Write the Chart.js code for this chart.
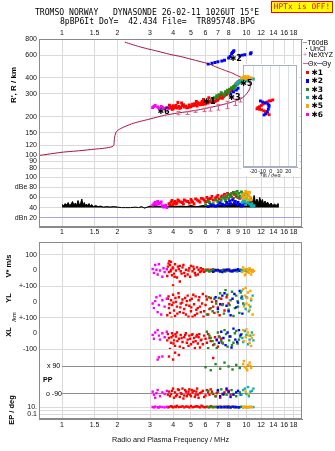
<!DOCTYPE html>
<html>
<head>
<meta charset="utf-8">
<title>Dynasonde ionogram</title>
<script src="https://cdn.jsdelivr.net/npm/chart.js@4.4.1/dist/chart.umd.min.js"></script>
<style>
    body { margin: 0; width: 335px; height: 451px; position: relative; overflow: hidden; background: #fff;
           font-family: "Liberation Sans", Arial, sans-serif; color: #000; }
    canvas { position: absolute; }
    .lbl { position: absolute; white-space: pre; line-height: 1; font-size: 7px; z-index: 3; }
    .rot { position: absolute; white-space: pre; line-height: 1; font-size: 7.5px; font-weight: bold; z-index: 3;
           transform: translate(-50%, -50%) rotate(-90deg); }
    .mono { font-family: "DejaVu Sans Mono", "Liberation Mono", monospace; font-size: 8.1px; }
    .sw { position: absolute; z-index: 3; }
</style>
</head>
<body>

<div class="lbl mono" style="left:35px; top:8px;">TROMSO NORWAY   DYNASONDE 26-02-11 1026UT 15°E</div>
<div class="lbl mono" style="left:60px; top:16.5px;">8pBP6It DoY=  42.434 File=  TR895748.BPG</div>
<div class="lbl mono" style="left:271px; top:1px; width:60px; height:10px; line-height:10px; background:#ffff00;
     border:1px solid #ff0000; color:#ff0000; text-align:center; font-size:7.8px;">HPTx is OFF!</div>

<canvas id="tiltChart" width="58" height="117" style="left:241px; top:63px; z-index:1;"></canvas>
<canvas id="topChart" width="335" height="210" style="left:0; top:26px; z-index:2;"></canvas>
<canvas id="lowChart" width="335" height="215" style="left:0; top:236px; z-index:2;"></canvas>

<!-- axis names -->
<div class="rot" style="left:14px; top:85px; font-size:8px;">R', R / km</div>
<div class="rot" style="left:9px; top:266px;">V* m/s</div>
<div class="rot" style="left:9px; top:298px;">YL</div>
<div class="rot" style="left:14px; top:317px; font-size:6px; font-weight:normal;">/km</div>
<div class="rot" style="left:9px; top:332px;">XL</div>
<div class="lbl" style="left:43px; top:375.5px; font-weight:bold;">PP</div>
<div class="lbl" style="left:47px; top:361.5px;">x 90</div>
<div class="lbl" style="left:46px; top:389.5px;">o -90</div>
<div class="rot" style="left:12px; top:410px;">EP / deg</div>

<!-- legend -->
<div class="sw" style="left:303px; top:42px; width:4px; height:1px; background:#999;"></div>
<div class="lbl" style="left:307.5px; top:39px;">T60dB</div>
<div class="sw" style="left:306px; top:48px; width:1px; height:1px; background:#000;"></div>
<div class="lbl" style="left:310px; top:45px;">UnCl</div>
<div class="lbl" style="left:303px; top:51px; color:#e0609a;">+</div>
<div class="lbl" style="left:308.5px; top:51px;">NeXtYZ</div>
<div class="sw" style="left:303px; top:63px; width:5px; height:1px; background:#e0609a;"></div>
<div class="lbl" style="left:308px; top:60px;">Θx</div>
<div class="sw" style="left:317px; top:63px; width:5px; height:1px; background:#6070e0;"></div>
<div class="lbl" style="left:322px; top:60px;">Θy</div>
<div id="seriesLegend"></div>

<script>
// ---------- axes ----------
const freqMin = 0.75, freqMax = 20;
const freqGrid = [1, 1.5, 2, 3, 4, 5, 6, 7, 8, 9, 10, 12, 14, 16, 18];
const freqLabelsOuter = [1, 1.5, 2, 3, 4, 5, 6, 7, 8, 10, 12, 14, 16, 18];
const freqLabelsMid = [1, 1.5, 2, 3, 4, 5, 6, 7, 8, 9, 10, 12, 14, 16, 18];

const heightTicks = [80, 90, 100, 120, 150, 200, 300, 400, 600, 800];
const heightLabels = ['80', '90', '100', '120', '150', '200', '300', '400', '600', '800'];
const dbTicks = [20, 40, 60, 80, 100];
const dbLabels = ['dBn 20', '40', '60', 'dBe 80', '100'];
const tiltTicks = [-20, -10, 0, 10, 20];

const velTicks = [-100, 0, 100];
const velLabels = ['+-100', '0', '100'];
const ylTicks = [-100, 0];
const ylLabels = ['+-100', '0'];
const xlTicks = [-100, 0];
const xlLabels = ['-100', '0'];
const ppLineValues = [90, -90];
const epTicks = [0.1, 1, 10];
const epLabels = ['0.1', '', '10.'];

const seriesNames = ['✱1', '✱2', '✱3', '✱4', '✱5', '✱6'];
const seriesColors = ['#ff0000', '#0000ff', '#1f8c1f', '#10b0b0', '#ffa500', '#ff00ff'];

// ---------- virtual height R' (km) ----------
const curveFreq = [0.75, 1.0, 1.25, 1.5, 1.7, 1.87, 1.91, 1.92, 1.93, 1.97, 2.05, 2.2, 2.44, 2.7, 2.96, 3.3, 3.6,
    4.2, 4.8, 5.5, 6.2, 7.0, 8.0, 8.8, 9.5, 9.9, 10.2, 10.45, 10.5, 10.45, 10.25, 9.8, 9.3, 8.8, 8.33, 7.7, 7.2,
    6.7, 6.22, 5.6, 5.0, 4.4, 3.9, 3.62, 3.2, 2.9, 2.6, 2.4, 2.19];
const curveHeight = [100, 106, 109, 112, 114, 117, 121, 132, 140, 153, 160, 168, 178, 185, 191, 199, 205,
    213, 219, 226, 234, 243, 255, 266, 280, 295, 312, 333, 350, 365, 378, 392, 405, 420, 437, 455, 472,
    492, 515, 535, 558, 585, 605, 622, 650, 672, 700, 725, 757];

const nxFreq = [4.27, 4.74, 5.26, 5.91, 6.34, 7.05, 7.83, 8.67, 9.25];
const nxHeight = [213, 213, 219, 226, 229, 237, 247, 258, 270];
const nxErr = [6, 5, 3, 7, 8, 12, 16, 14, 10];

const redH = [[3.8, 232], [3.82, 245], [3.85, 240], [3.9, 236], [3.95, 228], [4.0, 230], [4.0, 243], [4.05, 236],
    [4.1, 238], [4.15, 244], [4.2, 233], [4.25, 258], [4.3, 240], [4.35, 232], [4.4, 236], [4.45, 255],
    [4.5, 244], [4.55, 248], [4.6, 238], [4.7, 242], [4.75, 234], [4.8, 236], [4.9, 246], [4.95, 238],
    [5.0, 240], [5.1, 250], [5.15, 244], [5.2, 244], [5.25, 252], [5.3, 248], [5.35, 262], [5.4, 242],
    [5.45, 256], [5.5, 252], [5.6, 247], [5.65, 250], [5.7, 255], [5.75, 262], [5.8, 249], [5.85, 272],
    [5.9, 258], [5.95, 252], [6.0, 252], [6.1, 262], [6.15, 258], [6.2, 255], [6.25, 280], [6.35, 262],
    [6.45, 266], [6.5, 258], [6.6, 268], [6.7, 262], [6.8, 264], [6.9, 275], [6.95, 268], [7.0, 270],
    [7.1, 276], [7.2, 282], [7.3, 296], [7.4, 278], [7.5, 285], [7.6, 290], [7.7, 296], [7.8, 298],
    [7.9, 310], [8.0, 305], [8.1, 312], [8.2, 318], [8.3, 325], [8.4, 330], [8.5, 338], [8.6, 345],
    [8.7, 352], [8.8, 358], [8.9, 365], [9.0, 370], [9.1, 375], [9.2, 378], [9.35, 382], [9.5, 385],
    [9.65, 388], [9.8, 392], [9.95, 395], [10.1, 398]];
const blueH = [[6.2, 511], [6.5, 518], [6.75, 525], [7.0, 532], [7.35, 540], [7.6, 548], [8.0, 570],
    [8.15, 585], [8.3, 614], [8.4, 628], [8.5, 639], [8.55, 650], [9.2, 590], [9.5, 600], [9.8, 604],
    [10.5, 614], [10.6, 625], [8.2, 300], [8.5, 312], [8.8, 322], [9.0, 332]];
const greenH = [[6.5, 272], [6.7, 280], [6.9, 290], [7.0, 282], [7.1, 296], [7.3, 306], [7.5, 300],
    [7.6, 292], [7.7, 312], [7.9, 320], [8.0, 305], [8.1, 326], [8.3, 335], [8.5, 342], [8.6, 330],
    [8.7, 348], [8.9, 356], [9.1, 364], [9.3, 372], [9.5, 380], [9.6, 390]];
const tealH = [[8.8, 362], [9.0, 370], [9.2, 378], [9.4, 386], [9.6, 395], [9.8, 388], [10.0, 380],
    [10.3, 392], [10.6, 398], [10.9, 392]];
const orangeH = [[9.4, 398], [9.6, 405], [9.8, 410], [9.9, 395], [10.0, 402], [10.2, 408], [10.4, 400],
    [10.6, 395]];
const magentaH = [[3.1, 236], [3.15, 240], [3.2, 244], [3.3, 238], [3.35, 233], [3.45, 240], [3.5, 236],
    [3.6, 231], [3.7, 236], [3.75, 232]];

const starMarks = ['✱1', '✱2', '✱3', '✱5', '✱6'];
const starFreq = [6.3, 8.75, 8.6, 10.0, 3.55];
const starHeight = [262, 560, 282, 362, 219];

// ---------- echo amplitude (dB) ----------
const noiseDb = [[1.0, 46], [1.02, 44], [1.04, 48], [1.06, 45], [1.08, 50], [1.1, 44], [1.12, 47], [1.14, 52],
    [1.16, 45], [1.18, 49], [1.2, 44], [1.22, 54], [1.24, 46], [1.26, 48], [1.28, 57], [1.3, 45], [1.32, 50],
    [1.34, 44], [1.36, 47], [1.38, 43], [1.4, 48], [1.42, 43], [1.45, 46], [1.48, 42], [1.52, 44],
    [1.57, 42], [1.62, 43], [1.68, 41], [1.75, 42], [1.82, 41], [1.9, 42], [2.0, 41], [2.1, 40], [2.2, 40],
    [2.35, 40], [2.5, 41], [2.6, 40], [2.7, 42], [2.8, 39], [2.9, 41], [3.0, 43], [3.1, 42], [3.2, 44],
    [3.35, 42], [3.5, 43], [3.7, 42], [3.9, 44], [4.1, 42], [4.4, 43], [4.7, 42], [5.0, 44], [5.4, 42],
    [5.8, 44], [6.2, 43], [6.6, 45], [7.0, 44], [7.5, 46], [8.0, 45], [8.5, 48], [9.0, 46], [9.5, 50],
    [9.8, 50], [10.0, 46], [10.2, 55], [10.4, 48], [10.6, 60], [10.8, 50], [11.0, 64], [11.2, 49], [11.4, 57],
    [11.6, 47], [11.8, 60], [12.0, 50], [12.2, 56], [12.4, 46], [12.6, 53], [12.8, 47], [13.0, 51],
    [13.3, 45], [13.6, 49], [13.9, 44], [14.2, 47], [14.5, 44], [14.8, 48], [15.0, 46]];
const redDb = [[3.8, 48], [3.85, 46], [3.9, 51], [3.95, 54], [4.0, 46], [4.05, 49], [4.1, 52], [4.15, 47],
    [4.2, 49], [4.25, 55], [4.3, 53], [4.4, 51], [4.5, 50], [4.55, 47], [4.6, 55], [4.7, 53], [4.8, 52],
    [4.9, 49], [5.0, 56], [5.05, 53], [5.1, 51], [5.2, 48], [5.3, 57], [5.4, 55], [5.5, 53], [5.6, 51],
    [5.7, 58], [5.8, 57], [5.9, 55], [6.0, 52], [6.1, 60], [6.2, 56], [6.3, 57], [6.4, 58], [6.5, 62],
    [6.6, 55], [6.8, 59], [6.9, 61], [7.0, 64], [7.1, 57], [7.3, 61], [7.4, 63], [7.6, 66], [7.7, 60],
    [7.9, 68], [8.0, 65], [8.2, 64], [8.3, 61], [8.5, 70], [8.6, 66], [8.8, 62], [9.0, 60], [9.2, 58]];
const blueDb = [[6.2, 42], [6.4, 46], [6.6, 44], [6.8, 43], [7.0, 45], [7.2, 49], [7.4, 47], [7.6, 45],
    [7.8, 50], [8.0, 47], [8.1, 53], [8.2, 48], [8.4, 55], [8.6, 49], [8.7, 52], [8.9, 46], [9.0, 50],
    [9.3, 47], [9.4, 43], [9.6, 45]];
const greenDb = [[6.0, 46], [6.2, 52], [6.3, 50], [6.6, 48], [6.8, 55], [7.0, 52], [7.1, 49], [7.3, 55],
    [7.4, 60], [7.6, 58], [7.7, 54], [7.8, 62], [8.0, 66], [8.0, 58], [8.2, 62], [8.3, 68], [8.5, 58],
    [8.6, 70], [8.8, 66], [8.9, 72], [9.0, 60], [9.1, 68], [9.2, 62], [9.4, 71], [9.5, 65], [9.7, 66],
    [9.9, 60], [10.0, 70], [10.2, 64]];
const tealDb = [[9.4, 60], [9.5, 50], [9.6, 56], [9.8, 52], [9.9, 46], [10.0, 58], [10.2, 50], [10.3, 55],
    [10.4, 47], [10.6, 44], [10.7, 48], [10.8, 42], [11.0, 44]];
const orangeDb = [[9.5, 64], [9.6, 58], [9.7, 68], [9.8, 60], [9.9, 72], [10.0, 62], [10.1, 70], [10.2, 56],
    [10.3, 65], [10.4, 70], [10.5, 60], [10.6, 55]];
const magentaDb = [[3.1, 45], [3.15, 48], [3.2, 50], [3.25, 46], [3.3, 52], [3.35, 47], [3.4, 49], [3.45, 51],
    [3.5, 44], [3.55, 41], [3.6, 43], [3.65, 45], [3.7, 40]];

// ---------- tilt inset (deg, km) ----------
const tiltRed = [[2.2, 270], [0, 266], [-2, 265], [-4.5, 260], [-7, 255], [-9, 250], [-11, 244], [-13, 239],
    [-15, 235], [-16, 230], [-13, 228], [-10.5, 226], [-8, 222], [-6, 219], [-4, 213], [-2, 207]];
const tiltBlue = [[-12, 265], [-9.6, 260], [-6.5, 256], [-3.4, 251], [-2.2, 245], [-2.2, 240], [-2.9, 229],
    [-4, 219], [-6, 210], [-7.8, 206]];

// ---------- lower panels ----------
const redVel = [[3.72, -35], [3.75, 25], [3.78, 45], [3.8, -10], [3.82, 60], [3.85, 35], [3.88, -5], [3.9, 5],
    [3.9, 55], [3.95, -30], [3.98, 20], [4.0, 15], [4.0, -95], [4.05, -20], [4.08, -40], [4.1, 40], [4.15, 0],
    [4.2, -45], [4.25, 25], [4.3, 10], [4.35, 30], [4.35, -70], [4.4, -5], [4.45, -20], [4.5, 20], [4.55, 35],
    [4.6, -15], [4.65, -35], [4.7, 5], [4.8, -25], [4.85, 0], [4.9, 15], [4.95, -40], [5.0, 30], [5.1, -5],
    [5.15, 25], [5.2, 10], [5.25, -15], [5.3, -30], [5.4, 20], [5.45, -25], [5.5, 5], [5.6, -10], [5.65, 15],
    [5.7, -5], [5.8, 8], [5.9, -8], [6.0, 0], [6.1, 3], [6.2, 5], [6.3, -5], [6.4, 6], [6.5, -3], [6.7, -4],
    [6.8, 3], [7.0, 2], [7.2, 0], [7.4, -3], [7.6, 4], [7.8, 3], [8.0, -2], [8.4, 0]];
const redYL = [[3.72, -85], [3.75, 20], [3.78, 35], [3.8, -40], [3.82, -15], [3.85, -70], [3.9, 10],
    [3.92, -100], [3.95, -20], [4.0, 45], [4.02, -5], [4.05, -55], [4.1, -90], [4.12, 25], [4.15, 0],
    [4.2, -30], [4.22, -75], [4.28, 55], [4.3, 30], [4.35, -65], [4.38, -35], [4.4, -10], [4.45, -110],
    [4.48, -5], [4.5, 15], [4.55, -70], [4.6, -45], [4.65, 25], [4.7, -80], [4.72, -20], [4.75, 5], [4.8, 40],
    [4.85, -95], [4.9, -25], [4.95, 10], [5.0, -60], [5.02, -35], [5.05, 20], [5.1, -95], [5.15, 45],
    [5.2, -15], [5.25, -85], [5.3, 35], [5.35, -50], [5.4, -75], [5.45, -40], [5.5, 10], [5.55, 30],
    [5.6, -30], [5.65, -65], [5.75, -10], [5.8, 50], [5.85, -95], [5.9, -60], [6.0, -20], [6.05, 35],
    [6.1, 15], [6.2, -80], [6.3, -45], [6.4, 25], [6.5, 0], [6.6, -30], [6.7, -70], [6.85, 5], [7.0, -35],
    [7.15, -85], [7.3, 20], [7.45, -15], [7.6, -55], [7.8, 30], [8.0, -10]];
const redXL = [[3.72, -45], [3.75, -5], [3.8, -30], [3.85, -100], [3.9, -60], [3.92, -25], [3.95, 0],
    [4.0, -15], [4.02, -65], [4.05, -45], [4.1, -80], [4.12, -5], [4.15, -20], [4.2, 5], [4.22, -50],
    [4.3, -35], [4.35, -85], [4.4, -10], [4.45, -30], [4.5, -55], [4.55, -95], [4.6, -25], [4.65, -10],
    [4.7, 0], [4.75, -60], [4.8, -40], [4.85, -80], [4.9, -15], [4.95, -35], [5.0, -70], [5.05, -10],
    [5.1, -5], [5.15, -55], [5.2, -30], [5.25, -95], [5.3, -50], [5.35, -20], [5.4, -10], [5.45, -65],
    [5.5, -25], [5.55, -5], [5.6, -90], [5.65, -45], [5.7, -40], [5.8, -70], [5.9, -15], [6.0, -35],
    [6.1, -60], [6.2, -5], [6.3, -30], [6.4, -50], [6.5, -110], [6.6, -75], [6.75, -25], [6.9, -45],
    [7.0, -85], [7.1, -20], [7.3, -35], [7.4, -60]];
const redPP = [[3.8, 150], [4.0, 130], [4.1, 175], [4.3, 160], [6.6, 140], [3.75, -100], [3.8, -80],
    [3.85, -110], [3.9, -95], [3.95, -75], [4.0, -60], [4.05, -120], [4.1, -85], [4.15, -110], [4.2, -100],
    [4.25, -65], [4.3, -70], [4.35, -115], [4.4, -90], [4.45, -95], [4.5, -60], [4.55, -125], [4.6, -105],
    [4.65, -70], [4.7, -80], [4.75, -110], [4.8, -95], [4.85, -80], [4.9, -65], [4.95, -100], [5.0, -110],
    [5.05, -70], [5.1, -85], [5.2, -75], [5.25, -115], [5.3, -100], [5.35, -80], [5.4, -60], [5.45, -100],
    [5.5, -120], [5.6, -90], [5.7, -85], [5.8, -75], [5.9, -115], [6.0, -105], [6.1, -70], [6.2, -85],
    [6.3, -100], [6.4, -65], [6.5, -80], [6.6, -95], [6.8, -110], [6.9, -90], [7.0, -80], [7.2, -120],
    [7.4, -95], [7.6, -85], [7.8, -70], [8.0, -75], [8.2, -100]];
const redEP = [[3.75, 9], [3.8, 12], [3.9, 20], [3.95, 14], [4.0, 9], [4.1, 15], [4.15, 11], [4.2, 25],
    [4.3, 11], [4.4, 13], [4.5, 18], [4.6, 9], [4.7, 16], [4.8, 14], [4.9, 9], [5.0, 22], [5.1, 10],
    [5.2, 12], [5.3, 16], [5.4, 19], [5.5, 12], [5.6, 9], [5.7, 28], [5.8, 15], [5.9, 10], [6.0, 11],
    [6.1, 14], [6.25, 9], [6.4, 20], [6.6, 13], [6.8, 11], [7.0, 10], [7.2, 15], [7.4, 12], [7.6, 9],
    [7.8, 10], [8.0, 18], [8.3, 13], [8.6, 9]];

const blueVel = [[6.6, -8], [6.8, 2], [7.0, 3], [7.2, -4], [7.4, -10], [7.6, 0], [7.8, 5], [8.0, 6],
    [8.2, -5], [8.4, -3], [8.6, 0], [8.8, 4], [9.0, 8], [9.2, -2]];
const blueYL = [[6.8, 30], [7.0, -45], [7.2, -15], [7.4, 40], [7.6, 55], [7.8, -25], [8.0, -60], [8.2, -85],
    [8.4, 20], [8.6, 50], [8.8, -35], [9.0, -5], [9.2, 70], [9.4, 25], [9.5, -75]];
const blueXL = [[6.9, -40], [7.1, -60], [7.3, 10], [7.5, -30], [7.7, -75], [7.9, 5], [8.1, -20], [8.3, -90],
    [8.5, 30], [8.7, -40], [8.9, -55], [9.1, 20], [9.3, -10]];
const bluePP = [[7.0, -70], [7.2, -110], [7.5, -95], [7.8, -60], [8.0, -80], [8.2, -115], [8.5, -100],
    [8.8, -85], [9.0, -75], [9.3, -100]];
const blueEP = [[7.0, 10], [7.3, 11], [7.6, 13], [7.9, 10], [8.2, 9], [8.5, 13], [8.8, 12], [9.1, 9]];

const greenVel = [[6.0, 5], [6.15, 2], [6.3, -5], [6.45, -2], [6.6, 8], [6.75, 4], [6.9, 0], [7.05, -4],
    [7.2, -8], [7.35, 2], [7.5, 5], [7.65, -6], [7.8, -3], [7.95, 3], [8.1, 6], [8.25, -2], [8.4, -6],
    [8.55, 4], [8.7, 2], [8.85, -5], [9.0, -4], [9.15, 1], [9.3, 5], [9.45, -3], [9.6, 0], [9.8, 3]];
const greenYL = [[6.1, -80], [6.25, 30], [6.4, -40], [6.55, -60], [6.7, 20], [6.85, -10], [7.0, -65],
    [7.1, 25], [7.2, 55], [7.4, -20], [7.55, -75], [7.7, 75], [7.85, 45], [8.0, -50], [8.1, -20], [8.2, 10],
    [8.35, 65], [8.5, -90], [8.65, -40], [8.8, 40], [8.95, 5], [9.0, -30], [9.15, -70], [9.3, 60],
    [9.45, 35], [9.6, -10]];
const greenXL = [[6.1, 10], [6.2, -95], [6.3, -15], [6.4, -30], [6.55, -50], [6.7, -70], [6.9, -95],
    [7.0, 5], [7.15, -25], [7.3, -50], [7.45, -65], [7.6, 20], [7.75, -5], [7.9, -85], [8.05, -45],
    [8.2, -20], [8.35, -75], [8.5, -60], [8.65, 0], [8.8, 15], [8.95, -65], [9.1, -40], [9.25, -20], [9.4, -5]];
const greenPP = [[6.0, 80], [6.4, 60], [6.8, 100], [7.2, 70], [7.6, 110], [8.0, 85], [8.4, 65], [8.8, 95],
    [9.2, 75], [6.2, -75], [6.5, -90], [6.8, -110], [7.0, -80], [7.3, -65], [7.5, -100], [7.8, -100],
    [8.0, -85], [8.3, -70], [8.5, -95], [8.8, -110], [9.2, -85]];
const greenEP = [[6.2, 12], [6.4, 11], [6.6, 9], [6.8, 13], [7.0, 14], [7.2, 9], [7.4, 10], [7.6, 12],
    [7.8, 16], [8.0, 10], [8.2, 9], [8.4, 14], [8.6, 12], [8.8, 9], [9.0, 10], [9.2, 11], [9.4, 14], [9.6, 10]];

const tealVel = [[9.4, -5], [9.6, 0], [9.8, 4], [10.0, -3], [10.2, -8], [10.4, 5], [10.6, 2], [10.8, -6]];
const tealYL = [[9.4, 70], [9.5, 20], [9.7, -20], [9.9, -45], [10.0, 30], [10.3, -60], [10.5, -30],
    [10.6, 10], [10.8, 40]];
const tealXL = [[9.5, -30], [9.6, -55], [9.8, 15], [10.0, -10], [10.2, -70], [10.4, -40], [10.5, -15],
    [10.7, 5], [10.9, -45]];
const tealPP = [[9.4, -100], [9.6, -70], [9.8, -60], [10.0, -95], [10.2, -50], [10.3, -110], [10.5, -80],
    [10.7, -75], [10.9, -60]];
const tealEP = [[9.6, 11], [9.8, 12], [10.1, 9], [10.4, 10], [10.6, 13], [10.9, 11]];

const orangeVel = [[9.5, -10], [9.6, 20], [9.7, 5], [9.8, -30], [9.9, -20], [10.0, 10], [10.1, 8],
    [10.2, -5], [10.3, -15], [10.4, 15], [10.5, 0], [10.6, -25], [10.7, -8], [10.8, 5], [11.0, -2]];
const orangeYL = [[9.6, 80], [9.7, -30], [9.8, 40], [9.9, 90], [10.0, -10], [10.1, 25], [10.2, 60],
    [10.3, -20], [10.4, -50], [10.5, 70], [10.6, 20], [10.8, -80]];
const orangeXL = [[9.6, 20], [9.7, -50], [9.9, -25], [10.0, 25], [10.2, 5], [10.3, -15], [10.4, -60],
    [10.6, -80], [10.7, -30], [10.9, -10]];
const orangePP = [[9.6, 100], [9.7, 120], [9.8, 80], [10.0, 70], [10.1, 60], [10.2, 95], [10.4, 110],
    [10.5, 90], [10.6, 75], [9.9, -80], [10.3, -95]];
const orangeEP = [[9.6, 10], [9.7, 12], [9.9, 14], [10.0, 9], [10.2, 9], [10.3, 13], [10.5, 12], [10.7, 10]];

const magentaVel = [[3.1, 10], [3.15, -15], [3.2, 35], [3.25, 5], [3.3, -25], [3.35, 40], [3.4, 0], [3.5, -40],
    [3.55, 15], [3.6, -10], [3.7, 8]];
const magentaYL = [[3.1, -10], [3.15, -40], [3.2, 5], [3.25, 30], [3.3, -65], [3.35, -20], [3.4, 40], [3.45, -80],
    [3.5, 10], [3.6, -30], [3.7, 20]];
const magentaXL = [[3.1, -10], [3.15, -35], [3.2, 5], [3.3, 20], [3.35, -15], [3.4, -40], [3.5, 0], [3.6, -25], [3.7, 10]];
const magentaPP = [[3.3, 130], [3.35, 145], [3.5, 150], [3.1, -80], [3.15, -100], [3.2, -120], [3.25, -90],
    [3.3, -70], [3.4, -110], [3.5, -85], [3.6, -95], [3.7, -75]];
const magentaEP = [[3.1, 12], [3.15, 9], [3.2, 15], [3.3, 10], [3.35, 8], [3.4, 14], [3.5, 11], [3.6, 9], [3.7, 13]];

// ---------- look ----------
const RED = seriesColors[0], BLUE = seriesColors[1], GREEN = seriesColors[2];
const TEAL = seriesColors[3], ORANGE = seriesColors[4], MAGENTA = seriesColors[5];
const curveColor = '#a8123e';
const nxColor = '#e0609a';
const gridColor = '#dadada';
const frameColor = '#8a8a8a';
const textColor = '#111';
const tickFont = { size: 7 };
const topOffset = 26;
const insetBox = { left: 241, top: 64, width: 58, height: 112 };

Chart.defaults.font.family = "'Liberation Sans', Arial, sans-serif";
Chart.defaults.font.size = 7;

function pts(arr) {
    return arr.map(p => ({ x: p[0], y: p[1] }));
}

function dots(arr, color, yAxisID, radius) {
    return {
        type: 'scatter', data: pts(arr), xAxisID: 'x', yAxisID: yAxisID,
        backgroundColor: color, borderWidth: 0, pointStyle: 'rect',
        pointRadius: radius, pointHoverRadius: radius
    };
}

function freqAxis(position, labels, height, padding) {
    return {
        type: 'logarithmic', position: position, min: freqMin, max: freqMax,
        afterBuildTicks: (s) => { s.ticks = freqGrid.map(v => ({ value: v })); },
        afterFit: (s) => { s.height = height; },
        border: { color: frameColor },
        grid: { color: gridColor, drawTicks: false, display: position === 'bottom' },
        ticks: {
            font: tickFont, color: textColor, padding: padding, maxRotation: 0, autoSkip: false,
            callback: (v) => labels.includes(v) ? String(v) : ''
        }
    };
}

function stackedAxis(type, min, max, tickValues, tickLabels, stack, stackWeight, weight, gridFor) {
    return {
        type: type, position: 'left', min: min, max: max,
        stack: stack, stackWeight: stackWeight, weight: weight,
        afterBuildTicks: (s) => { s.ticks = tickValues.map(v => ({ value: v })); },
        afterFit: (s) => { s.width = 39; },
        border: { color: frameColor },
        grid: { drawTicks: false, color: (c) => gridFor(c.tick ? c.tick.value : null) },
        ticks: {
            font: tickFont, color: textColor, padding: 2, autoSkip: false,
            callback: (v) => { const i = tickValues.indexOf(v); return i < 0 ? '' : tickLabels[i]; }
        }
    };
}

const plainGrid = () => gridColor;
const noZeroGrid = (v) => v === 0 ? 'rgba(0,0,0,0)' : gridColor;

function framePlugin(color) {
    return {
        id: 'frame',
        afterDraw(chart) {
            const a = chart.chartArea, ctx = chart.ctx;
            ctx.save();
            ctx.strokeStyle = color;
            ctx.lineWidth = 1;
            ctx.strokeRect(Math.round(a.left) + 0.5, Math.round(a.top) + 0.5,
                Math.round(a.width) - 1, Math.round(a.height) - 1);
            ctx.restore();
        }
    };
}

// the tilt inset lives on a canvas underneath; open a window for it
const insetHole = {
    id: 'insetHole',
    beforeDatasetsDraw(chart) {
        chart.ctx.clearRect(insetBox.left, insetBox.top - topOffset, insetBox.width, insetBox.height);
    }
};

const nxBars = {
    id: 'nxBars',
    afterDatasetsDraw(chart) {
        const x = chart.scales.x, y = chart.scales.yH, ctx = chart.ctx;
        ctx.save();
        ctx.strokeStyle = nxColor;
        ctx.lineWidth = 1;
        nxFreq.forEach((f, i) => {
            const px = Math.round(x.getPixelForValue(f)) + 0.5;
            const top = y.getPixelForValue(nxHeight[i] + nxErr[i]);
            const bot = y.getPixelForValue(nxHeight[i] - nxErr[i]);
            ctx.beginPath();
            ctx.moveTo(px, top); ctx.lineTo(px, bot);
            ctx.moveTo(px - 2, top); ctx.lineTo(px + 2, top);
            ctx.moveTo(px - 2, bot); ctx.lineTo(px + 2, bot);
            ctx.stroke();
        });
        ctx.restore();
    }
};

const starText = {
    id: 'starText',
    afterDatasetsDraw(chart) {
        const x = chart.scales.x, y = chart.scales.yH, ctx = chart.ctx;
        ctx.save();
        ctx.fillStyle = '#000';
        ctx.font = "bold 8px 'DejaVu Sans', sans-serif";
        ctx.textAlign = 'center';
        ctx.textBaseline = 'middle';
        starMarks.forEach((m, i) => {
            ctx.fillText(m, x.getPixelForValue(starFreq[i]), y.getPixelForValue(starHeight[i]));
        });
        ctx.restore();
    }
};

const ppLines = {
    id: 'ppLines',
    beforeDatasetsDraw(chart) {
        const x = chart.scales.x, y = chart.scales.yPP, ctx = chart.ctx;
        ctx.save();
        ctx.strokeStyle = '#8c8c8c';
        ctx.lineWidth = 1;
        ppLineValues.forEach(v => {
            const py = Math.round(y.getPixelForValue(v)) + 0.5;
            ctx.beginPath();
            ctx.moveTo(x.getPixelForValue(1), py);
            ctx.lineTo(chart.chartArea.right, py);
            ctx.stroke();
        });
        ctx.restore();
    }
};

// ---------- top: R' and dB ----------
new Chart(document.getElementById('topChart'), {
    type: 'scatter',
    data: {
        datasets: [
            dots(magentaH, MAGENTA, 'yH', 2.1),
            dots(orangeH, ORANGE, 'yH', 2.1),
            dots(tealH, TEAL, 'yH', 2.1),
            dots(greenH, GREEN, 'yH', 2.1),
            dots(blueH, BLUE, 'yH', 2.1),
            dots(redH, RED, 'yH', 2.1),
            dots(magentaDb, MAGENTA, 'yDB', 2),
            dots(orangeDb, ORANGE, 'yDB', 2),
            dots(tealDb, TEAL, 'yDB', 2),
            dots(blueDb, BLUE, 'yDB', 2),
            dots(greenDb, GREEN, 'yDB', 2),
            dots(redDb, RED, 'yDB', 2),
            {
                type: 'line', data: pts(noiseDb), xAxisID: 'x', yAxisID: 'yDB',
                borderColor: '#000', backgroundColor: '#000', borderWidth: 1,
                pointRadius: 0, tension: 0, fill: { value: 40 }
            },
            {
                type: 'line', data: curveFreq.map((f, i) => ({ x: f, y: curveHeight[i] })),
                xAxisID: 'x', yAxisID: 'yH', borderColor: curveColor, borderWidth: 1,
                pointRadius: 0, tension: 0.2, fill: false
            }
        ]
    },
    options: {
        responsive: false, animation: false, events: [],
        layout: { padding: { left: 0, right: 33, top: 0, bottom: 0 } },
        plugins: { legend: { display: false }, tooltip: { enabled: false } },
        scales: {
            x: freqAxis('bottom', freqLabelsMid, 9, 1),
            x2: freqAxis('top', freqLabelsOuter, 13, 2),
            yH: stackedAxis('logarithmic', 70, 800, heightTicks, heightLabels, 'top', 136.5, 2, plainGrid),
            yDB: stackedAxis('linear', 2, 103, dbTicks, dbLabels, 'top', 51.5, 1,
                (v) => v === 20 ? '#a4a4e6' : gridColor)
        }
    },
    plugins: [insetHole, nxBars, starText, framePlugin(frameColor)]
});

// ---------- tilt inset ----------
new Chart(document.getElementById('tiltChart'), {
    type: 'scatter',
    data: {
        datasets: [
            dots(tiltBlue, BLUE, 'y', 2),
            dots(tiltRed, RED, 'y', 2)
        ]
    },
    options: {
        responsive: false, animation: false, events: [],
        layout: { padding: { left: 1, right: 1, top: 2, bottom: 0 } },
        plugins: { legend: { display: false }, tooltip: { enabled: false } },
        scales: {
            x: {
                type: 'linear', min: -32, max: 30,
                afterBuildTicks: (s) => { s.ticks = tiltTicks.map(v => ({ value: v })); },
                afterFit: (s) => { s.height = 13; },
                border: { color: '#a8b0c8' },
                grid: { color: '#d8dce6', drawTicks: false },
                ticks: { font: { size: 5.5 }, color: textColor, padding: 1, maxRotation: 0, autoSkip: false },
                title: { display: true, text: 'Tilt / deg', font: { size: 5.5 }, color: textColor, padding: { top: 0, bottom: 1.5 } }
            },
            y: { type: 'logarithmic', min: 81, max: 505, display: false }
        }
    },
    plugins: [framePlugin('#a8b0c8')]
});

// ---------- lower: V*, YL, XL, PP, EP ----------
const rows = [
    ['yV', redVel, blueVel, greenVel, tealVel, orangeVel, magentaVel],
    ['yYL', redYL, blueYL, greenYL, tealYL, orangeYL, magentaYL],
    ['yXL', redXL, blueXL, greenXL, tealXL, orangeXL, magentaXL],
    ['yPP', redPP, bluePP, greenPP, tealPP, orangePP, magentaPP],
    ['yEP', redEP, blueEP, greenEP, tealEP, orangeEP, magentaEP]
];
const lowSets = [];
rows.forEach(r => {
    lowSets.push(dots(r[6], MAGENTA, r[0], 1.7));
    lowSets.push(dots(r[5], ORANGE, r[0], 1.7));
    lowSets.push(dots(r[4], TEAL, r[0], 1.7));
    lowSets.push(dots(r[2], BLUE, r[0], 1.7));
    lowSets.push(dots(r[3], GREEN, r[0], 1.7));
    lowSets.push(dots(r[1], RED, r[0], 1.7));
});

const lowX = freqAxis('bottom', freqLabelsOuter, 32, 2);
lowX.title = {
    display: true, text: 'Radio and Plasma Frequency / MHz', font: { size: 7.3 }, color: textColor,
    padding: { top: 0, bottom: 7 }
};

new Chart(document.getElementById('lowChart'), {
    type: 'scatter',
    data: { datasets: lowSets },
    options: {
        responsive: false, animation: false, events: [],
        layout: { padding: { left: 0, right: 33, top: 3, bottom: 0 } },
        plugins: { legend: { display: false }, tooltip: { enabled: false } },
        scales: {
            x: lowX,
            yV: stackedAxis('linear', -100, 181, velTicks, velLabels, 'low', 44.8, 5, noZeroGrid),
            yYL: stackedAxis('linear', -100, 100, ylTicks, ylLabels, 'low', 32, 4, noZeroGrid),
            yXL: stackedAxis('linear', -100, 100, xlTicks, xlLabels, 'low', 32, 3, noZeroGrid),
            yPP: stackedAxis('linear', -148, 199, [], [], 'low', 54, 2, plainGrid),
            yEP: stackedAxis('logarithmic', 0.0037, 326, epTicks, epLabels, 'low', 17.3, 1, plainGrid)
        }
    },
    plugins: [ppLines, framePlugin(frameColor)]
});

// ---------- series legend ----------
const legendBox = document.getElementById('seriesLegend');
seriesNames.forEach((name, i) => {
    const cy = 72.3 + i * 8.35;
    const sq = document.createElement('div');
    sq.className = 'sw';
    sq.style.cssText = `left:305.5px; top:${cy - 1.5}px; width:3.5px; height:3.5px; background:${seriesColors[i]};`;
    legendBox.appendChild(sq);
    const tx = document.createElement('div');
    tx.className = 'lbl';
    tx.style.cssText = `left:311.5px; top:${cy - 3.5}px; font-size:7.5px; font-family:'DejaVu Sans', sans-serif; font-weight:bold;`;
    tx.textContent = name;
    legendBox.appendChild(tx);
});
</script>
</body>
</html>
